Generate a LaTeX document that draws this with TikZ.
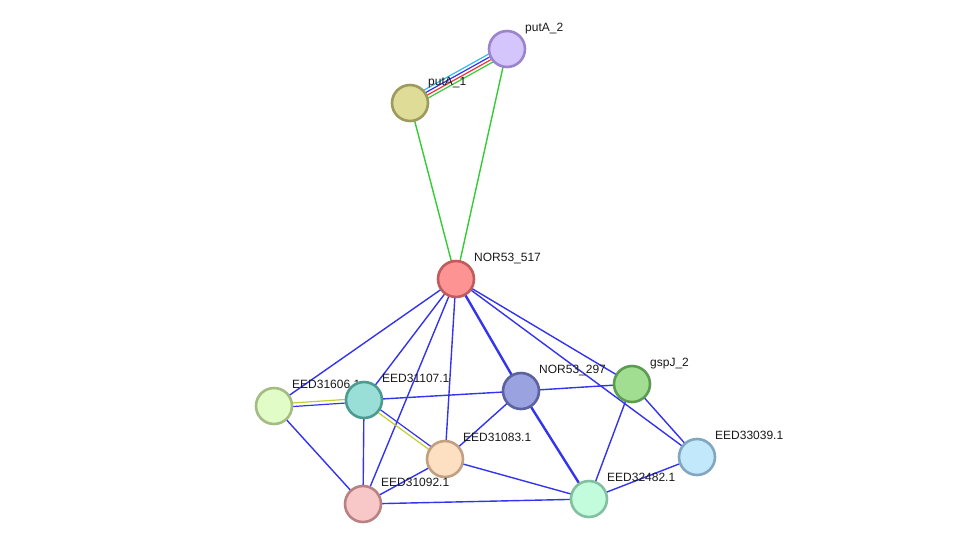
\documentclass[tikz,border=0pt]{standalone}
\usepackage{fontspec}
\setmainfont{Liberation Sans}
\usetikzlibrary{calc}
\definecolor{eblue}{HTML}{3333F0}
\definecolor{egreen}{HTML}{33CC33}
\definecolor{ecyan}{HTML}{33BBEE}
\definecolor{ered}{HTML}{EE3333}
\definecolor{eyel}{HTML}{C0D030}
\tikzset{
  prot/.style={circle, minimum size=36pt, inner sep=0pt, line width=2.6pt},
  lbl/.style={anchor=base west, inner sep=0pt, font=\fontsize{12}{14}\selectfont, text=black!90},
  edge/.style={line width=1.4pt, draw=eblue},
  thick edge/.style={line width=2.4pt, draw=eblue},
}
\newcommand{\prot}[6]{%
  \definecolor{#1fill}{HTML}{#4}%
  \definecolor{#1line}{HTML}{#5}%
  \node[prot, fill=#1fill, draw=#1line] (#1) at (#2,#3) {};
  \node[lbl] (#1-l) at (#2+18,#3-17.5) {#6};
}
\begin{document}
\begin{tikzpicture}[x=1pt,y=-1pt]
\useasboundingbox (0,0) rectangle (975,550);
% coordinates for edges
\coordinate (pA2) at (507,49);
\coordinate (pA1) at (410,103);
\coordinate (n517) at (456,279);
\coordinate (e606) at (274,406);
\coordinate (e107) at (364,400);
\coordinate (n297) at (521,391);
\coordinate (gsp) at (632,384);
\coordinate (e083) at (445,459);
\coordinate (e039) at (697,457);
\coordinate (e092) at (363,504);
\coordinate (e482) at (589,499);
% edges
\draw[line width=1.2pt, ecyan] ($(pA1)!4.5pt!90:(pA2)$) -- ($(pA2)!4.5pt!-90:(pA1)$);
\draw[line width=1.2pt, eblue] ($(pA1)!1.5pt!90:(pA2)$) -- ($(pA2)!1.5pt!-90:(pA1)$);
\draw[line width=1.2pt, ered] ($(pA1)!1.5pt!-90:(pA2)$) -- ($(pA2)!1.5pt!90:(pA1)$);
\draw[line width=1.2pt, egreen] ($(pA1)!4.5pt!-90:(pA2)$) -- ($(pA2)!4.5pt!90:(pA1)$);
\draw[line width=1.4pt, egreen] (pA1) -- (n517);
\draw[line width=1.4pt, egreen] (pA2) -- (n517);
\draw[edge] (n517) -- (e606);
\draw[edge] (n517) -- (e107);
\draw[edge] (n517) -- (e092);
\draw[edge] (n517) -- (e083);
\draw[thick edge] (n517) -- (n297);
\draw[edge] (n517) -- (gsp);
\draw[edge] (n517) -- (e039);
\draw[thick edge] (n297) -- (e482);
\draw[line width=1.2pt, eyel] ($(e606)!1.8pt!90:(e107)$) -- ($(e107)!1.8pt!-90:(e606)$);
\draw[line width=1.2pt, eblue] ($(e606)!1.8pt!-90:(e107)$) -- ($(e107)!1.8pt!90:(e606)$);
\draw[edge] (e107) -- (n297);
\draw[edge] (n297) -- (gsp);
\draw[line width=1.2pt, eyel] ($(e107)!1.8pt!-90:(e083)$) -- ($(e083)!1.8pt!90:(e107)$);
\draw[line width=1.2pt, eblue] ($(e107)!1.8pt!90:(e083)$) -- ($(e083)!1.8pt!-90:(e107)$);
\draw[edge] (e107) -- (e092);
\draw[edge] (e606) -- (e092);
\draw[edge] (e092) -- (e083);
\draw[edge] (e092) -- (e482);
\draw[edge] (e083) -- (e482);
\draw[edge] (e083) -- (n297);
\draw[edge] (gsp) -- (e482);
\draw[edge] (gsp) -- (e039);
\draw[edge] (e039) -- (e482);
% nodes
\prot{putA2}{507}{49}{D4C6FC}{9C84CC}{putA\_2}
\prot{putA1}{410}{103}{DFDC98}{9C9A5C}{putA\_1}
\prot{N517}{456}{279}{FE9393}{C05C5C}{NOR53\_517}
\prot{E606}{274}{406}{E1FCC6}{A2BC82}{EED31606.1}
\prot{E107}{364}{400}{9ADFD7}{4C9A92}{EED31107.1}
\prot{N297}{521}{391}{9AA2E0}{5C62A0}{NOR53\_297}
\prot{GSP}{632}{384}{A1DE92}{5C9C52}{gspJ\_2}
\prot{E083}{445}{459}{FDDFC2}{C0A080}{EED31083.1}
\prot{E039}{697}{457}{C2E8FC}{82A6C0}{EED33039.1}
\prot{E092}{363}{504}{F8C8C8}{B88282}{EED31092.1}
\prot{E482}{589}{499}{C2FCDC}{82C0A0}{EED32482.1}
\end{tikzpicture}
\end{document}
